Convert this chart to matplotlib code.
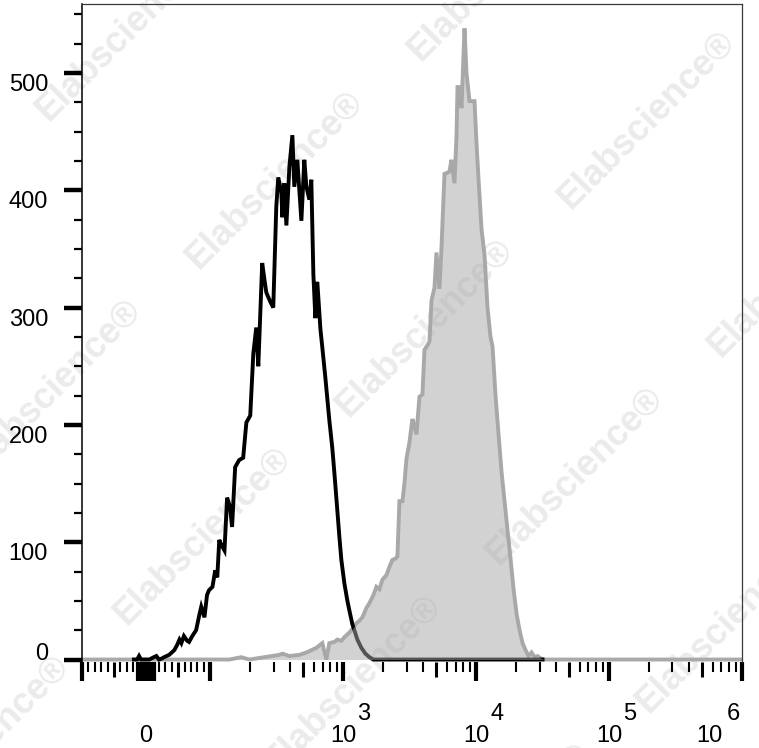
import numpy as np
import matplotlib
matplotlib.use('Agg')
import matplotlib.pyplot as plt
import matplotlib.transforms as mtransforms

plt.rcParams['font.family'] = ['Liberation Sans', 'DejaVu Sans']

# unstained control (black outline), intensity vs count
ctrl_x = [-19, -14, -11, -8, 5, 12, 16, 20, 25, 28, 36, 44, 48, 52, 55, 59, 64, 67,
          72, 78, 83, 86, 91, 95, 98, 104, 109, 113, 117, 121, 128, 134, 141, 146,
          154, 165, 177, 187, 200, 211, 222, 230, 246, 255, 264, 283, 298, 314, 325,
          343, 349, 361, 374, 394, 415, 429, 452, 485, 510, 529, 557, 576, 597, 618,
          639, 674, 697, 735, 787, 829, 859, 904, 936, 969, 1021, 1076, 1113, 1173,
          1214, 1279, 1371, 1470, 1575, 1689, 31600]
ctrl_y = [0, 0, 3, 0, 0, 2, 3, 0, 1, 2, 4, 8, 12, 17, 14, 20, 16, 15,
          20, 25, 38, 45, 36, 55, 59, 62, 76, 70, 102, 98, 93, 138, 130, 113,
          164, 170, 172, 202, 208, 261, 283, 250, 338, 325, 313, 305, 300, 386, 411,
          398, 377, 406, 370, 420, 447, 403, 426, 374, 426, 403, 392, 409, 328, 291,
          322, 282, 266, 240, 204, 180, 159, 127, 105, 85, 65, 50, 42, 30,
          25, 17, 10, 5, 2, 0, 0]

# stained sample (grey filled)
stain_x = [-100, 139, 171, 197, 331, 349, 394, 468, 529, 576, 629, 697, 747, 787,
           859, 904, 969, 1021, 1113, 1193, 1257, 1324, 1395, 1495, 1575, 1689, 1778,
           1873, 1973, 2115, 2228, 2347, 2473, 2559, 2650, 2792, 2889, 2992, 3151,
           3264, 3320, 3558, 3748, 3948, 4088, 4305, 4458, 4616, 4862, 5032, 5302,
           5489, 5781, 6089, 6305, 6528, 6876, 7119, 7244, 7499, 7766, 8179, 8468,
           8920, 9727, 10070, 10425, 10982, 11567, 12183, 12835, 13288, 13999, 14748,
           15536, 16367, 17239, 18159, 19129, 20152, 21231, 22364, 23560, 24816,
           26146, 27543, 29003, 30550, 32743, 1000000]
stain_y = [0, 0, 2, 0, 4, 5, 3, 4, 6, 8, 10, 14, 0, 14,
           15, 17, 16, 19, 23, 27, 31, 33, 36, 44, 48, 55, 62,
           60, 68, 72, 79, 85, 86, 88, 135, 135, 150, 171, 185,
           199, 205, 192, 224, 226, 264, 268, 271, 306, 317, 347, 316,
           351, 414, 415, 416, 426, 406, 446, 488, 488, 470, 538, 500,
           476, 476, 440, 410, 367, 345, 300, 275, 267, 225, 192,
           160, 135, 110, 86, 60, 39, 25, 14, 8, 3,
           6, 2, 3, 1, 0, 0]

y_ticks = [0, 100, 200, 300, 400, 500]
y_tick_labels = ['0', '100', '200', '300', '400', '500']
x_label_pos = [0, 1e3, 1e4, 1e5, 1e6]
x_label_base = ['0', '10', '10', '10', '10']
x_label_exp = ['', '3', '4', '5', '6']

W, H = 759, 748
fig = plt.figure(figsize=(W / 100, H / 100), dpi=100)
rect = [82 / W, 1 - 662 / H, 660 / W, 658 / H]
ax = fig.add_axes(rect)
ax.patch.set_visible(False)


def set_x(a):
    a.set_xscale('symlog', linthresh=100, linscale=0.434)
    a.set_xlim(-100, 1e6)
    a.set_ylim(-2.1, 558.8)


set_x(ax)

# watermark lattice behind the plot
for i in range(-2, 5):
    for j in range(-2, 3):
        px = 275 + i * 150 + j * 372
        py = 180 + i * 148 - j * 60
        if -150 < px < W + 150 and -150 < py < H + 150:
            fig.text(px / W, 1 - py / H, 'Elabscience®', rotation=45,
                     rotation_mode='anchor', ha='center', va='center',
                     fontsize=26, fontweight='bold', color='#ebebeb', zorder=-1)

ax.plot(stain_x, stain_y, color='#a9a9a9', lw=2.8, zorder=2,
        solid_joinstyle='miter')
ax.plot(ctrl_x, ctrl_y, color='black', lw=2.8, zorder=3,
        solid_joinstyle='miter')
ax.fill_between(stain_x, stain_y, 0, color='#a7a7a7', alpha=0.5, lw=0,
                zorder=4)

# spines
ax.spines['bottom'].set_visible(False)
ax.spines['left'].set_linewidth(1.1)
for s in ['top', 'right']:
    ax.spines[s].set_color('#3a3a3a')
    ax.spines[s].set_linewidth(0.9)

# y ticks
ax.set_yticks(y_ticks)
ax.set_yticks([v for v in range(25, 551, 25) if v % 100], minor=True)
ax.tick_params(axis='y', which='major', direction='out', length=13, width=3.2,
               labelleft=False)
ax.tick_params(axis='y', which='minor', direction='out', length=6, width=1.6)

# x ticks
major_x = [-100, -12, -8, -4, 0, 4, 8, 12, 100, 1e3, 1e4, 1e5, 1e6]
minor_x = [v for v in range(-90, 100, 10) if v not in (-50, 0, 50)]
minor_x += [k * 10 ** d for d in range(2, 6) for k in range(2, 10) if k != 5]
ax.set_xticks(major_x)
ax.set_xticks(minor_x, minor=True)
ax.tick_params(axis='x', which='major', direction='out', length=14, width=3,
               labelbottom=False)
ax.tick_params(axis='x', which='minor', direction='out', length=7, width=1.5)

# medium ticks at the half decades on an overlay axes
ax_mid = fig.add_axes(rect)
set_x(ax_mid)
ax_mid.patch.set_visible(False)
for s in ax_mid.spines.values():
    s.set_visible(False)
ax_mid.set_yticks([])
ax_mid.set_xticks([-50, 50, 500, 5e3, 5e4, 5e5])
ax_mid.set_xticks([], minor=True)
ax_mid.tick_params(axis='x', which='major', direction='out', length=10.5,
                   width=2.2, labelbottom=False)

# y labels (top aligned to tick, zero sits on it)
ytrans = mtransforms.blended_transform_factory(ax.transAxes, ax.transData)
for v, lab in zip(y_ticks, y_tick_labels):
    ax.text(-34 / 660, v - (0.8 if v else 0), lab, transform=ytrans, ha='right',
            va='top' if v else 'baseline', fontsize=17)

# x labels with full size exponents
xtrans = mtransforms.blended_transform_factory(ax.transData, ax.transAxes)
for v, base, ex in zip(x_label_pos, x_label_base, x_label_exp):
    last = v == 1e6
    shift = -19 if last else 0
    t0 = xtrans + mtransforms.ScaledTranslation(shift / 100, 0, fig.dpi_scale_trans)
    ax.text(v, -80 / 658, base, transform=t0, ha='right' if last else 'center',
            va='baseline', fontsize=17, clip_on=False)
    if ex:
        off = -15 if last else 14
        t1 = xtrans + mtransforms.ScaledTranslation(off / 100, 0, fig.dpi_scale_trans)
        ax.text(v, -58 / 658, ex, transform=t1, ha='left', va='baseline',
                fontsize=17, clip_on=False)

fig.savefig('out.png', dpi=100)
